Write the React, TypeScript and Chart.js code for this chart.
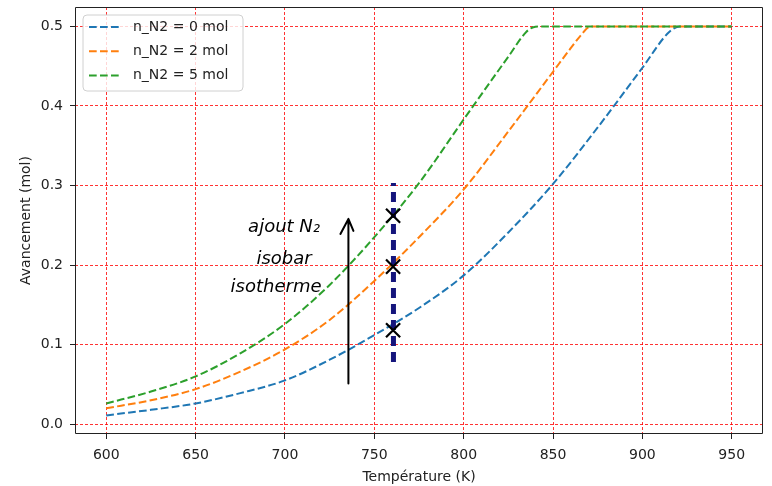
import React, { useEffect, useRef } from "react";
import { Chart, registerables } from "chart.js";

Chart.register(...registerables);

// ---- data ----
const temps0 = [600, 625, 650, 675, 700, 725, 750, 775, 800, 825, 850, 875, 900, 915, 921, 950];
const avance0 = [0.011, 0.018, 0.026, 0.039, 0.055, 0.081, 0.112, 0.146, 0.187, 0.241, 0.302, 0.373, 0.448, 0.493, 0.5, 0.5];

const temps2 = [600, 625, 650, 675, 700, 725, 750, 775, 800, 825, 850, 860, 866, 870, 873, 950];
const avance2 = [0.02, 0.03, 0.044, 0.066, 0.094, 0.131, 0.18, 0.235, 0.295, 0.368, 0.443, 0.473, 0.49, 0.499, 0.5, 0.5];

const temps5 = [600, 625, 650, 675, 700, 725, 750, 775, 800, 825, 835, 839, 843, 950];
const avance5 = [0.026, 0.041, 0.06, 0.089, 0.126, 0.175, 0.235, 0.303, 0.383, 0.462, 0.493, 0.499, 0.5, 0.5];

const seriesLabels = ["n_N2 = 0 mol", "n_N2 = 2 mol", "n_N2 = 5 mol"];

const xTicks = [600, 650, 700, 750, 800, 850, 900, 950];
const yTicks = [0, 0.1, 0.2, 0.3, 0.4, 0.5];
const yTickLabels = ["0.0", "0.1", "0.2", "0.3", "0.4", "0.5"];

const xTitle = "Température (K)";
const yTitle = "Avancement (mol)";

// hand-drawn annotations (data units)
const crossT = [760.5, 760.5, 760.5];
const crossY = [0.118, 0.198, 0.262];
const isoLineT = [760.7, 760.7];
const isoLineY = [0.078, 0.303];
const arrowT = [735.5, 735.5];
const arrowY = [0.051, 0.258];
const noteLines = ["ajout N₂", "isobar", "isotherme"];
const noteT = [699.5, 699.5, 695];
const noteY = [0.248, 0.207, 0.172];

// ---- styles ----
const seriesColors = ["#1f77b4", "#ff7f0e", "#2ca02c"];
const lineDash = [7.7, 3.3];
const FONT = "DejaVu Sans";

const toXY = (xs: number[], ys: number[]) => xs.map((x, i) => ({ x, y: ys[i] }));

const framePlugin = {
  id: "frameAndLegend",
  afterDatasetsDraw(chart: any) {
    const { ctx, chartArea, scales } = chart;
    const xs = scales.x;
    const ys = scales.y;
    ctx.save();

    // arrow
    const xa = xs.getPixelForValue(arrowT[0]);
    const yb = ys.getPixelForValue(arrowY[0]);
    const yt = ys.getPixelForValue(arrowY[1]);
    ctx.strokeStyle = "#000";
    ctx.lineWidth = 2;
    ctx.lineCap = "round";
    ctx.lineJoin = "round";
    ctx.beginPath();
    ctx.moveTo(xa, yb);
    ctx.lineTo(xa, yt);
    ctx.moveTo(xa - 8, yt + 15);
    ctx.lineTo(xa, yt);
    ctx.lineTo(xa + 5, yt + 12);
    ctx.stroke();

    // notes
    ctx.fillStyle = "#000";
    ctx.font = `italic 18px ${FONT}`;
    ctx.textAlign = "center";
    ctx.textBaseline = "middle";
    noteLines.forEach((t, i) => {
      ctx.fillText(t, xs.getPixelForValue(noteT[i]), ys.getPixelForValue(noteY[i]));
    });

    // frame (spines)
    ctx.strokeStyle = "#222";
    ctx.lineWidth = 1;
    ctx.lineCap = "butt";
    ctx.strokeRect(
      Math.round(chartArea.left) + 0.5,
      Math.round(chartArea.top) + 0.5,
      Math.round(chartArea.right - chartArea.left) - 1,
      Math.round(chartArea.bottom - chartArea.top) - 1
    );

    // legend
    const x0 = chartArea.left + 8;
    const y0 = chartArea.top + 8;
    const w = 160;
    const h = 76;
    const r = 4;
    ctx.beginPath();
    ctx.moveTo(x0 + r, y0);
    ctx.lineTo(x0 + w - r, y0);
    ctx.quadraticCurveTo(x0 + w, y0, x0 + w, y0 + r);
    ctx.lineTo(x0 + w, y0 + h - r);
    ctx.quadraticCurveTo(x0 + w, y0 + h, x0 + w - r, y0 + h);
    ctx.lineTo(x0 + r, y0 + h);
    ctx.quadraticCurveTo(x0, y0 + h, x0, y0 + h - r);
    ctx.lineTo(x0, y0 + r);
    ctx.quadraticCurveTo(x0, y0, x0 + r, y0);
    ctx.closePath();
    ctx.fillStyle = "rgba(255,255,255,0.8)";
    ctx.fill();
    ctx.strokeStyle = "#d0d0d0";
    ctx.stroke();

    ctx.font = `14px ${FONT}`;
    ctx.textAlign = "left";
    ctx.textBaseline = "middle";
    seriesLabels.forEach((lab, i) => {
      const y = y0 + 12 + i * 24.2;
      ctx.setLineDash(lineDash);
      ctx.strokeStyle = seriesColors[i];
      ctx.lineWidth = 2;
      ctx.beginPath();
      ctx.moveTo(x0 + 6, y);
      ctx.lineTo(x0 + 37, y);
      ctx.stroke();
      ctx.setLineDash([]);
      ctx.fillStyle = "#222";
      ctx.fillText(lab, x0 + 50, y);
    });
    ctx.restore();
  },
};

export default function App() {
  const ref = useRef<HTMLCanvasElement | null>(null);

  useEffect(() => {
    if (!ref.current) return;
    const grid = {
      color: "rgba(255,0,0,0.8)",
      lineWidth: 1,
      tickColor: "#222",
      tickLength: 5,
      tickWidth: 1,
      tickBorderDash: [],
      drawTicks: true,
    };
    const border = { display: false, dash: [3, 2] };
    const series = [
      { t: temps0, a: avance0 },
      { t: temps2, a: avance2 },
      { t: temps5, a: avance5 },
    ];
    const chart = new Chart(ref.current, {
      type: "line",
      data: {
        datasets: [
          {
            label: "isoLine",
            data: toXY(isoLineT, isoLineY),
            borderColor: "#15157c",
            borderWidth: 5,
            borderDash: [10, 6],
            pointRadius: 0,
            order: 0,
          } as any,
          {
            label: "crosses",
            data: toXY(crossT, crossY),
            showLine: false,
            pointStyle: "crossRot",
            pointRadius: 10,
            borderColor: "#000",
            pointBorderWidth: 2.2,
            order: -1,
          },
          ...series.map((s, i) => ({
            label: seriesLabels[i],
            data: toXY(s.t, s.a),
            borderColor: seriesColors[i],
            backgroundColor: seriesColors[i],
            borderWidth: 2,
            borderDash: lineDash,
            pointRadius: 0,
            cubicInterpolationMode: "monotone" as const,
            fill: false,
            order: 3 - i,
          })),
        ],
      },
      options: {
        animation: false,
        responsive: false,
        events: [],
        layout: { autoPadding: false, padding: { top: 7, right: 9, left: 0, bottom: 0 } },
        plugins: {
          legend: { display: false },
          tooltip: { enabled: false },
        },
        scales: {
          x: {
            type: "linear",
            min: 582.5,
            max: 967.5,
            grid,
            border,
            afterBuildTicks: (s: any) => {
              s.ticks = xTicks.map((v) => ({ value: v }));
            },
            afterFit: (s: any) => {
              s.height = 52;
              s.paddingLeft = 0;
              s.paddingRight = 0;
              s.paddingTop = 0;
              s.paddingBottom = 0;
            },
            ticks: {
              color: "#222",
              padding: 8,
              maxRotation: 0,
              autoSkip: false,
              font: { family: FONT, size: 14 },
              callback: (v: any) => String(v),
            },
            title: {
              display: true,
              text: xTitle,
              color: "#222",
              font: { family: FONT, size: 14 },
              padding: { top: 0, bottom: 0 },
            },
          },
          y: {
            type: "linear",
            min: -0.0124,
            max: 0.5244,
            grid,
            border,
            afterBuildTicks: (s: any) => {
              s.ticks = yTicks.map((v) => ({ value: v }));
            },
            afterFit: (s: any) => {
              s.width = 75;
              s.paddingLeft = 0;
              s.paddingRight = 0;
              s.paddingTop = 0;
              s.paddingBottom = 0;
            },
            ticks: {
              color: "#222",
              padding: 7,
              autoSkip: false,
              font: { family: FONT, size: 14 },
              callback: (_v: any, i: number) => yTickLabels[i],
            },
            title: {
              display: true,
              text: yTitle,
              color: "#222",
              font: { family: FONT, size: 14 },
              padding: { top: 17.5, bottom: 0 },
            },
          },
        },
      },
      plugins: [framePlugin],
    } as any);
    return () => chart.destroy();
  }, []);

  return (
    <div style={{ position: "absolute", left: 0, top: 0, width: 772, height: 486, background: "#fff" }}>
      <canvas ref={ref} width={772} height={486} style={{ display: "block" }} />
    </div>
  );
}
